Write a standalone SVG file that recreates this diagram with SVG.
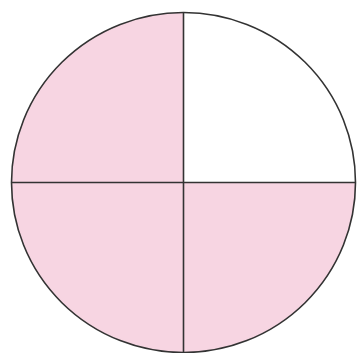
<svg xmlns="http://www.w3.org/2000/svg" width="358" height="353" viewBox="0 0 358 353">
<style>
.q{fill:#f7d5e2;stroke:none}
.ln{stroke:#333;stroke-width:1.6;fill:none}
</style>
<rect width="358" height="353" fill="#ffffff"/>
<g id="quadrant-tl"><path class="q" d="M183.5,182.5 L11.5,182.5 A172,170 0 0 1 183.5,12.5 Z"/></g>
<g id="quadrant-tr"><path d="M183.5,182.5 L183.5,12.5 A172,170 0 0 1 355.5,182.5 Z" fill="#ffffff"/></g>
<g id="quadrant-bl"><path class="q" d="M183.5,182.5 L183.5,352.5 A172,170 0 0 1 11.5,182.5 Z"/></g>
<g id="quadrant-br"><path class="q" d="M183.5,182.5 L355.5,182.5 A172,170 0 0 1 183.5,352.5 Z"/></g>
<g id="connectors">
<ellipse class="ln" cx="183.5" cy="182.5" rx="172" ry="170"/>
<line class="ln" x1="183.5" y1="12.5" x2="183.5" y2="352.5"/>
<line class="ln" x1="11.5" y1="182.5" x2="355.5" y2="182.5"/>
</g>
</svg>
